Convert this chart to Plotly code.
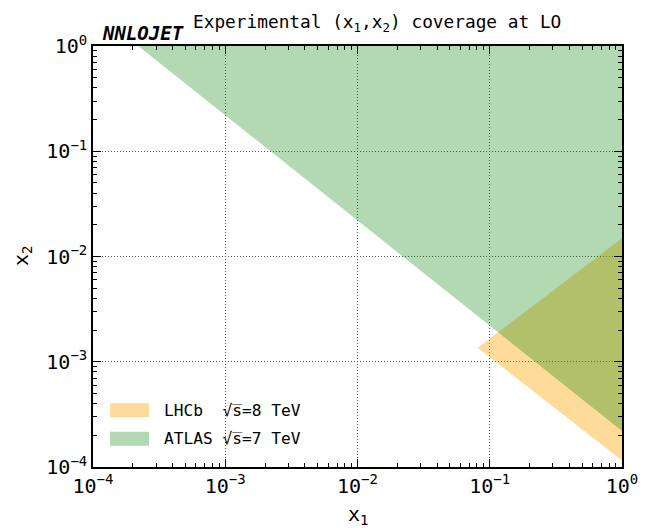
import plotly.graph_objects as go

# ---- data ----
atlas_x1 = [2.2e-4, 1.0, 1.0]
atlas_x2 = [1.0, 1.0, 2.2e-4]
lhcb_x1 = [0.081, 1.0, 1.0]
lhcb_x2 = [1.36e-3, 0.0149, 1.15e-4]

series_names = ["LHCb  √s\u0305=8 TeV", "ATLAS √s\u0305=7 TeV"]
series_colors = ["rgba(255,165,0,0.4)", "rgba(0,128,0,0.3)"]
major_ticks = [1e-4, 1e-3, 1e-2, 1e-1, 1.0]
major_text = ["10<sup>−4</sup>", "10<sup>−3</sup>", "10<sup>−2</sup>", "10<sup>−1</sup>", "10<sup>0</sup>"]
minor_ticks = [m * 10 ** e for e in range(-4, 0) for m in range(2, 10)]

FONT = "DejaVu Sans Mono"
L, R, T, B = 93, 26, 46, 61
W, H = 648, 528
PW, PH = W - L - R, H - T - B


def px(x):
    return (x - L) / PW


def py(y):
    return (H - B - y) / PH


fig = go.Figure()
fig.add_trace(go.Scatter(x=lhcb_x1, y=lhcb_x2, fill="toself", mode="lines",
                         line=dict(width=0, color=series_colors[0]),
                         fillcolor=series_colors[0], name=series_names[0], showlegend=False))
fig.add_trace(go.Scatter(x=atlas_x1, y=atlas_x2, fill="toself", mode="lines",
                         line=dict(width=0, color=series_colors[1]),
                         fillcolor=series_colors[1], name=series_names[1], showlegend=False))

axis_common = dict(
    type="log", range=[-4, 0], tickmode="array", tickvals=major_ticks, ticktext=major_text,
    ticks="inside", ticklen=8, tickwidth=1.2, tickcolor="black",
    showline=True, linecolor="black", linewidth=1.5, mirror="allticks",
    showgrid=True, gridcolor="#555", gridwidth=1, griddash="1px,2px",
    zeroline=False, tickfont=dict(family=FONT, size=20, color="black"),
    minor=dict(tickmode="array", tickvals=minor_ticks, ticks="inside", ticklen=4,
               tickwidth=1, tickcolor="black", showgrid=False),
)
fig.update_xaxes(**axis_common)
fig.update_yaxes(**axis_common)

# manual legend (rectangular swatches + labels)
shapes = []
annotations = []
legend_rows = [410.3, 438.7]
for name, color, yc in zip(series_names, series_colors, legend_rows):
    shapes.append(dict(type="rect", xref="paper", yref="paper",
                       x0=px(110), x1=px(149), y0=py(yc - 7), y1=py(yc + 7),
                       fillcolor=color, line=dict(width=0), layer="above"))
    annotations.append(dict(text=name, xref="paper", yref="paper", x=px(162), y=py(yc),
                            xanchor="left", yanchor="middle", showarrow=False,
                            font=dict(family=FONT, size=16.2, color="black")))

annotations += [
    dict(text="Experimental (x<sub>1</sub>,x<sub>2</sub>) coverage at LO", xref="paper", yref="paper",
         x=px(376.5), y=py(23), xanchor="center", yanchor="middle", showarrow=False,
         font=dict(family=FONT, size=17.8)),
    dict(text="<b><i>NNLOJET</i></b>", xref="paper", yref="paper",
         x=px(100), y=1.0, xanchor="left", yanchor="bottom", showarrow=False,
         font=dict(family=FONT, size=19)),
    dict(text="x<sub>1</sub>", xref="paper", yref="paper", x=0.5, y=-0.115,
         xanchor="center", yanchor="middle", showarrow=False, font=dict(family=FONT, size=20)),
    dict(text="x<sub>2</sub>", xref="paper", yref="paper", x=-0.135, y=0.5, textangle=-90,
         xanchor="center", yanchor="middle", showarrow=False, font=dict(family=FONT, size=20)),
]

fig.update_layout(
    width=W, height=H,
    margin=dict(l=L, r=R, t=T, b=B, autoexpand=False),
    paper_bgcolor="white", plot_bgcolor="white",
    font=dict(family=FONT, color="black"),
    showlegend=False,
    shapes=shapes,
    annotations=annotations,
)

fig.write_html("out.html")
